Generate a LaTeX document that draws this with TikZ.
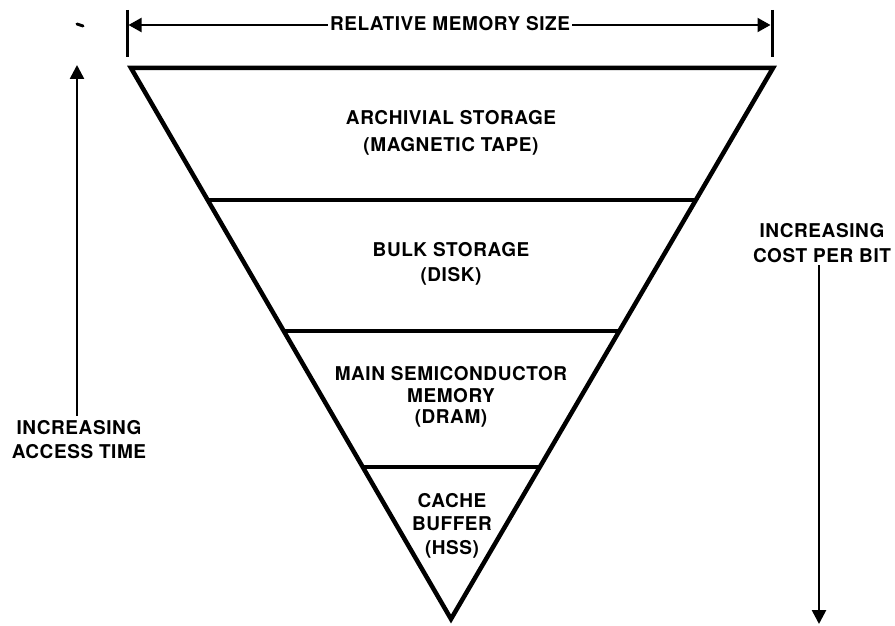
\documentclass[tikz,border=0pt]{standalone}
\usepackage{fontspec}
\setmainfont{TeX Gyre Heros}[LetterSpace=3]
\usetikzlibrary{arrows.meta,calc}
\begin{document}
\begin{tikzpicture}[x=1pt,y=-1pt,
  lbl/.style={font=\bfseries\fontsize{19}{#1}\selectfont, align=center, inner sep=0pt},
  lbl/.default=24,
  edge/.style={line width=4.5pt, line join=miter},
  divider/.style={line width=3.5pt},
  axis/.style={line width=2.6pt, -{Triangle[width=14pt,length=14pt]}},
  dimline/.style={line width=2pt, -{Triangle[width=14pt,length=13pt]}},
  tick/.style={line width=3pt}
]
\useasboundingbox (0,0) rectangle (895,626);

% dimension line
\node[lbl, inner xsep=2pt] (rms) at (450,24) {RELATIVE MEMORY SIZE};
\coordinate (lt) at (128.5,25);
\coordinate (rt) at (770.5,25);
\draw[tick] (127,10) -- (127,57);
\draw[tick] (772,10) -- (772,57);
\draw[dimline] (rms.west |- lt) -- (lt);
\draw[dimline] (rms.east |- rt) -- (rt);

% speck
\draw[line width=3pt, line cap=round] (77,24) -- (83,26);

% triangle
\coordinate (TL) at (131,68);
\coordinate (TR) at (773,68);
\coordinate (B) at (451,619);
\draw[edge] (TL) -- (TR) -- (B) -- cycle;
\draw[divider] ($(TL)!0.2396!(B)$) -- ($(TR)!0.2396!(B)$);
\draw[divider] ($(TL)!0.4773!(B)$) -- ($(TR)!0.4773!(B)$);
\draw[divider] ($(TL)!0.7241!(B)$) -- ($(TR)!0.7241!(B)$);

% layer labels
\node[lbl=26.5] (arch) at (451,133) {ARCHIVIAL STORAGE\\(MAGNETIC TAPE)};
\node[lbl=25.5] (bulk) at (451,264) {BULK STORAGE\\(DISK)};
\node[lbl=21.5] (main) at (451,397) {MAIN SEMICONDUCTOR\\MEMORY\\(DRAM)};
\node[lbl=23.5] (cache) at (452,525.5) {CACHE\\BUFFER\\(HSS)};

% access time arrow
\node[lbl=24] (acc) at (79,440) {INCREASING\\ACCESS TIME};
\coordinate (la1) at (77,65);
\draw[axis] ($(acc.north -| la1)+(0,-5)$) -- (la1);

% cost arrow
\node[lbl=25] (cost) at (822,243.5) {INCREASING\\COST PER BIT};
\coordinate (ra1) at (819,624);
\draw[axis] ($(cost.south -| ra1)+(0,2)$) -- (ra1);
\end{tikzpicture}
\end{document}
